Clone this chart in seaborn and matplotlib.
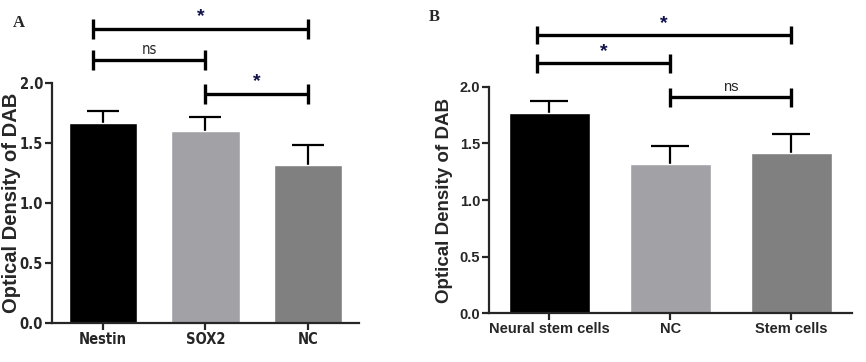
import matplotlib
matplotlib.use("Agg")
import matplotlib.pyplot as plt
import numpy as np
import seaborn as sns

# panel A
a_labels = ["Nestin", "SOX2", "NC"]
a_means = [1.67, 1.60, 1.32]
a_sem = [0.10, 0.12, 0.16]
# (x1, x2, y, text)
a_brackets = [(-0.10, 2.0, 2.45, "*"), (-0.10, 1.0, 2.19, "ns"), (1.0, 2.0, 1.91, "*")]

# panel B
b_labels = ["Neural stem cells", "NC", "Stem cells"]
b_means = [1.765, 1.32, 1.415]
b_sem = [0.11, 0.16, 0.165]
b_brackets = [(-0.105, 2.0, 2.455, "*"), (-0.105, 1.0, 2.205, "*"), (1.0, 2.0, 1.905, "ns")]

colors = ["#000000", "#a2a1a6", "#808080"]
y_ticks = [0.0, 0.5, 1.0, 1.5, 2.0]

sns.set_style("ticks")
plt.rcParams["font.family"] = ["Liberation Sans", "DejaVu Sans"]

fig = plt.figure(figsize=(8.66, 3.62), dpi=100)
ax_a = fig.add_axes([0.0600, 0.1077, 0.3545, 0.663])
ax_b = fig.add_axes([0.5647, 0.1345, 0.4188, 0.626])


def draw_panel(ax, labels, means, sem, brackets, font, capsize, tick_dy,
               label_size, label_x):
    sns.barplot(x=labels, y=means, hue=labels, palette=colors, legend=False,
                width=0.67, errorbar=None, ax=ax, saturation=1, zorder=2)
    # upper-only error bars: hide the cap at the bar top
    _, caps, _ = ax.errorbar(range(len(means)), means,
                             yerr=[np.zeros(len(sem)), sem], fmt="none",
                             ecolor="black", elinewidth=1.6, capsize=capsize,
                             capthick=1.6, zorder=1)
    caps[0].set_visible(False)
    ax.set_xlim(-0.5, 2.5)
    ax.set_ylim(0, 2.0)
    ax.set_yticks(y_ticks)
    ax.set_yticklabels([f"{t:.1f}" for t in y_ticks])
    sns.despine(ax=ax)
    for s in ["left", "bottom"]:
        ax.spines[s].set_linewidth(1.6)
    ax.tick_params(width=1.6, length=5, pad=1.5)
    for lbl in ax.get_xticklabels() + ax.get_yticklabels():
        lbl.set(**font)
    ax.set_ylabel("Optical Density of DAB", fontsize=label_size, fontweight="bold")
    ax.yaxis.set_label_coords(label_x, 0.5)
    for x1, x2, y, txt in brackets:
        ax.plot([x1, x2], [y, y], color="black", lw=2.4, clip_on=False,
                solid_capstyle="butt")
        for xe in (x1, x2):
            ax.plot([xe, xe], [y - tick_dy, y + tick_dy], color="black",
                    lw=2.4, clip_on=False, solid_capstyle="butt")
        if txt == "*":
            ax.text((x1 + x2) / 2, y + 0.03, txt, ha="center", va="bottom",
                    fontsize=14, fontweight="bold", color="#10104a")
        else:
            f = dict(font)
            f["fontweight"] = "normal"
            ax.text((x1 + x2) / 2, y + 0.03, txt, ha="center", va="bottom", **f)


font_a = dict(family=["DejaVu Sans Condensed", "DejaVu Sans"],
              fontstretch="condensed", fontweight="bold", fontsize=10.5)
font_b = dict(family="Liberation Sans", fontweight="bold", fontsize=10.5)

draw_panel(ax_a, a_labels, a_means, a_sem, a_brackets, font_a, 11.5, 0.083,
           14.5, -0.10)
draw_panel(ax_b, b_labels, b_means, b_sem, b_brackets, font_b, 14, 0.08,
           13.5, -0.10)

fig.text(19 / 866, 1 - 23 / 362, "A", family="Liberation Serif",
         fontweight="bold", fontsize=12, ha="center", va="center")
fig.text(434 / 866, 1 - 17 / 362, "B", family="Liberation Serif",
         fontweight="bold", fontsize=12, ha="center", va="center")

fig.savefig("out.png", dpi=100)
